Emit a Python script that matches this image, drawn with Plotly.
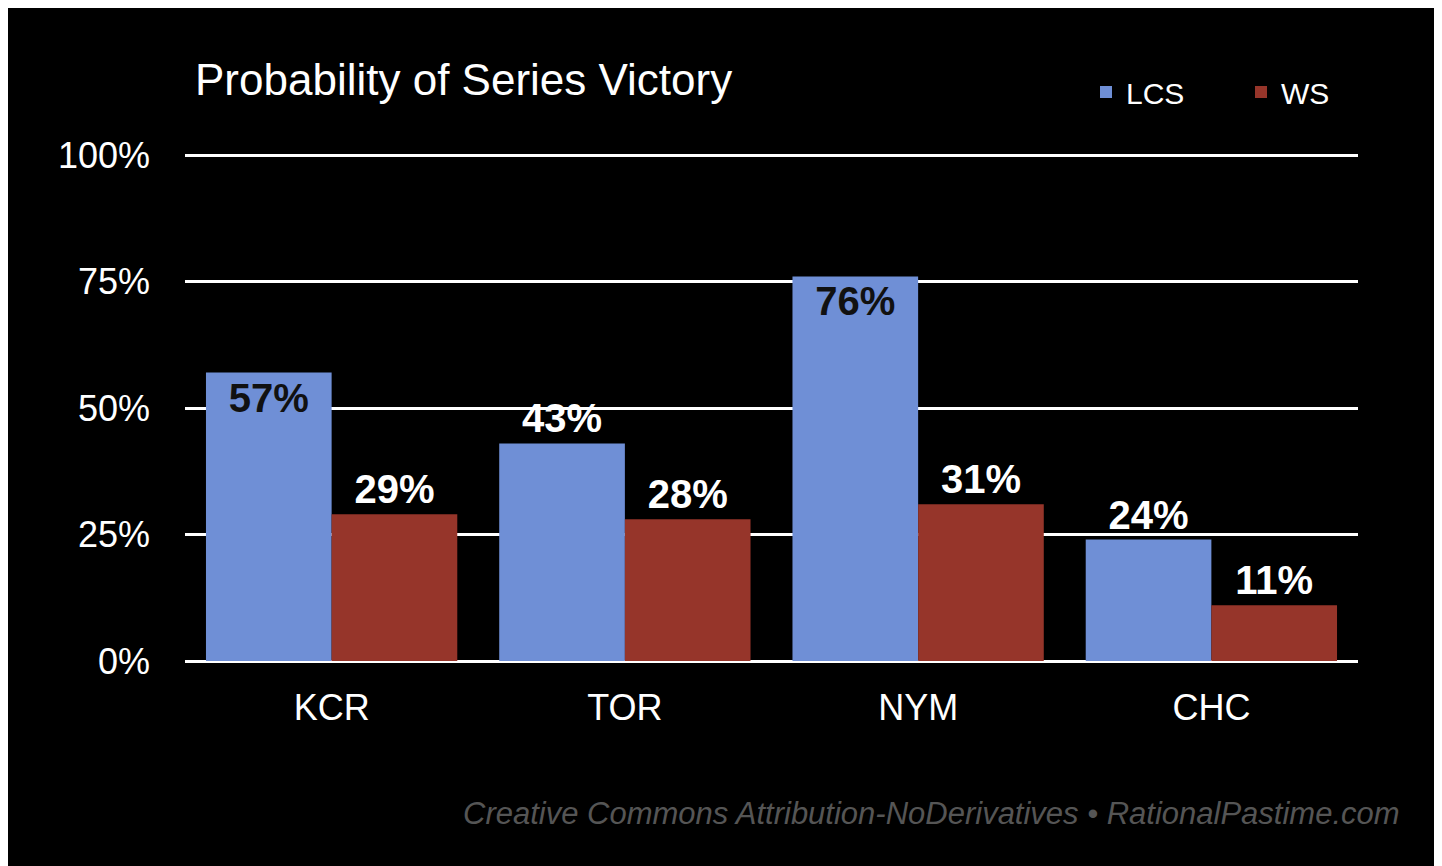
import plotly.graph_objects as go

teams = ["KCR", "TOR", "NYM", "CHC"]
lcs = [57, 43, 76, 24]
ws = [29, 28, 31, 11]
lcs_pos = ["inside", "outside", "inside", "outside"]

W, H = 1442, 866
L, R, T, B = 177, 92, 142, 213
pw, ph = W - L - R, H - T - B

fig = go.Figure()
fig.add_trace(go.Bar(x=teams, y=lcs, name="LCS", marker=dict(color="#6f8fd6", line=dict(width=0)),
                     text=[f"{v}%" for v in lcs], textposition=lcs_pos, insidetextanchor="end",
                     outsidetextfont=dict(family="Liberation Sans", size=40, color="white"),
                     insidetextfont=dict(family="Liberation Sans", size=40, color="#111111"),
                     cliponaxis=False, texttemplate="<b>%{text}</b>"))
fig.add_trace(go.Bar(x=teams, y=ws, name="WS", marker=dict(color="#96352a", line=dict(width=0)),
                     text=[f"{v}%" for v in ws], textposition="outside",
                     textfont=dict(family="Liberation Sans", size=40, color="white"),
                     cliponaxis=False, texttemplate="<b>%{text}</b>"))

fig.update_layout(
    width=W, height=H, paper_bgcolor="black", plot_bgcolor="black",
    margin=dict(l=L, r=R, t=T, b=B),
    barmode="group", bargap=0.143, bargroupgap=0,
    font=dict(family="Liberation Sans", color="white"),
    title=dict(text="Probability of Series Victory", x=187/W, xanchor="left", y=1-72/H, yanchor="middle",
               font=dict(size=44, color="white")),
    legend=dict(orientation="h", x=(1078-L)/pw, y=1-84/H, yref="container", yanchor="middle",
                xanchor="left", font=dict(size=30, color="white"), entrywidth=110, bgcolor="rgba(0,0,0,0)",
                itemsizing="constant"),
    yaxis=dict(range=[0, 101], tickvals=[0, 25, 50, 75, 100], ticktext=["0%", "25%", "50%", "75%", "100%"],
               showgrid=True, gridcolor="white", gridwidth=2.5, zeroline=True, zerolinecolor="white",
               zerolinewidth=2.5, tickfont=dict(size=36, color="white"), ticks="", ticklabelstandoff=34),
    xaxis=dict(tickfont=dict(size=36, color="white"), ticks="", showline=False, ticklabelstandoff=22),
)
fig.add_annotation(text="<i>Creative Commons Attribution-NoDerivatives • RationalPastime.com</i>",
                   xref="paper", yref="paper", x=(1394-L)/pw, y=-(805-653)/ph,
                   showarrow=False, xanchor="right", yanchor="middle",
                   font=dict(size=31, color="#555555"))
fig.write_html("out.html")
